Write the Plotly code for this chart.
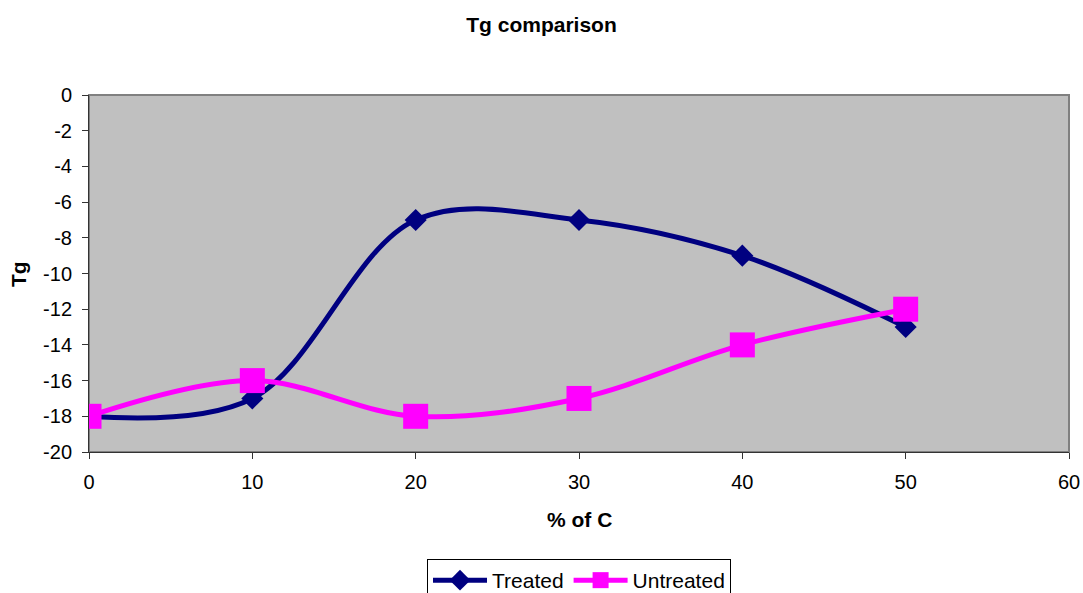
import plotly.graph_objects as go

x_vals = [0, 10, 20, 30, 40, 50]
treated = [-18, -17, -7, -7, -9, -13]
untreated = [-18, -16, -18, -17, -14, -12]
x_ticks = [0, 10, 20, 30, 40, 50, 60]
y_ticks = [0, -2, -4, -6, -8, -10, -12, -14, -16, -18, -20]
y_tick_text = [str(v) for v in y_ticks]

W, H = 1083, 593
L, R, T, B = 89, 14, 95, 141
plot_h = H - T - B

fig = go.Figure()
fig.add_trace(go.Scatter(
    x=x_vals, y=treated, name="Treated", mode="lines+markers",
    line=dict(color="#000080", width=5, shape="spline", smoothing=1.0),
    marker=dict(symbol="diamond", size=17, color="#000080"),
))
fig.add_trace(go.Scatter(
    x=x_vals, y=untreated, name="Untreated", mode="lines+markers",
    line=dict(color="#FF00FF", width=5, shape="spline", smoothing=1.0),
    marker=dict(symbol="square", size=25, color="#FF00FF"),
))

font_family = "Liberation Sans, Arial, sans-serif"
fig.update_layout(
    width=W, height=H,
    margin=dict(l=L, r=R, t=T, b=B, autoexpand=False),
    paper_bgcolor="white",
    plot_bgcolor="#C0C0C0",
    font=dict(family=font_family, size=20, color="black"),
    title=dict(text="<b>Tg comparison</b>", x=0.5, xanchor="center",
               y=1 - 25 / H, yanchor="middle", font=dict(size=21)),
    showlegend=True,
    legend=dict(orientation="h", x=0.5, xanchor="center", y=-(559 - (H - B)) / plot_h, yanchor="top",
                bordercolor="black", borderwidth=1, font=dict(size=21),
                tracegroupgap=0, itemwidth=54),
    xaxis=dict(range=[0, 60], tickvals=x_ticks, ticks="outside", ticklen=6, tickcolor="#333",
               showline=True, linecolor="#333", linewidth=1, mirror=False,
               showgrid=False, zeroline=False, automargin=False,
               ticklabelstandoff=6, tickfont=dict(size=20)),
    yaxis=dict(range=[-20, 0], tickvals=y_ticks, ticktext=y_tick_text, ticks="outside", ticklen=6,
               tickcolor="#333", showline=True, linecolor="#333", linewidth=1,
               showgrid=False, zeroline=False, automargin=False,
               ticklabelstandoff=6, tickfont=dict(size=20)),
)
fig.add_shape(type="rect", xref="paper", yref="paper", x0=0, y0=0, x1=1, y1=1,
              line=dict(color="#808080", width=2), fillcolor="rgba(0,0,0,0)", layer="below")

# axis titles
fig.add_annotation(text="<b>% of C</b>", xref="paper", yref="paper",
                   x=0.5, y=-(519 - (H - B)) / plot_h, xanchor="center", yanchor="middle",
                   showarrow=False, font=dict(size=21))
fig.add_annotation(text="<b>Tg</b>", xref="paper", yref="paper",
                   x=-(L - 18) / (W - L - R), y=1 - (274 - T) / plot_h, xanchor="center", yanchor="middle",
                   textangle=-90, showarrow=False, font=dict(size=21))

fig.write_html("out.html")
